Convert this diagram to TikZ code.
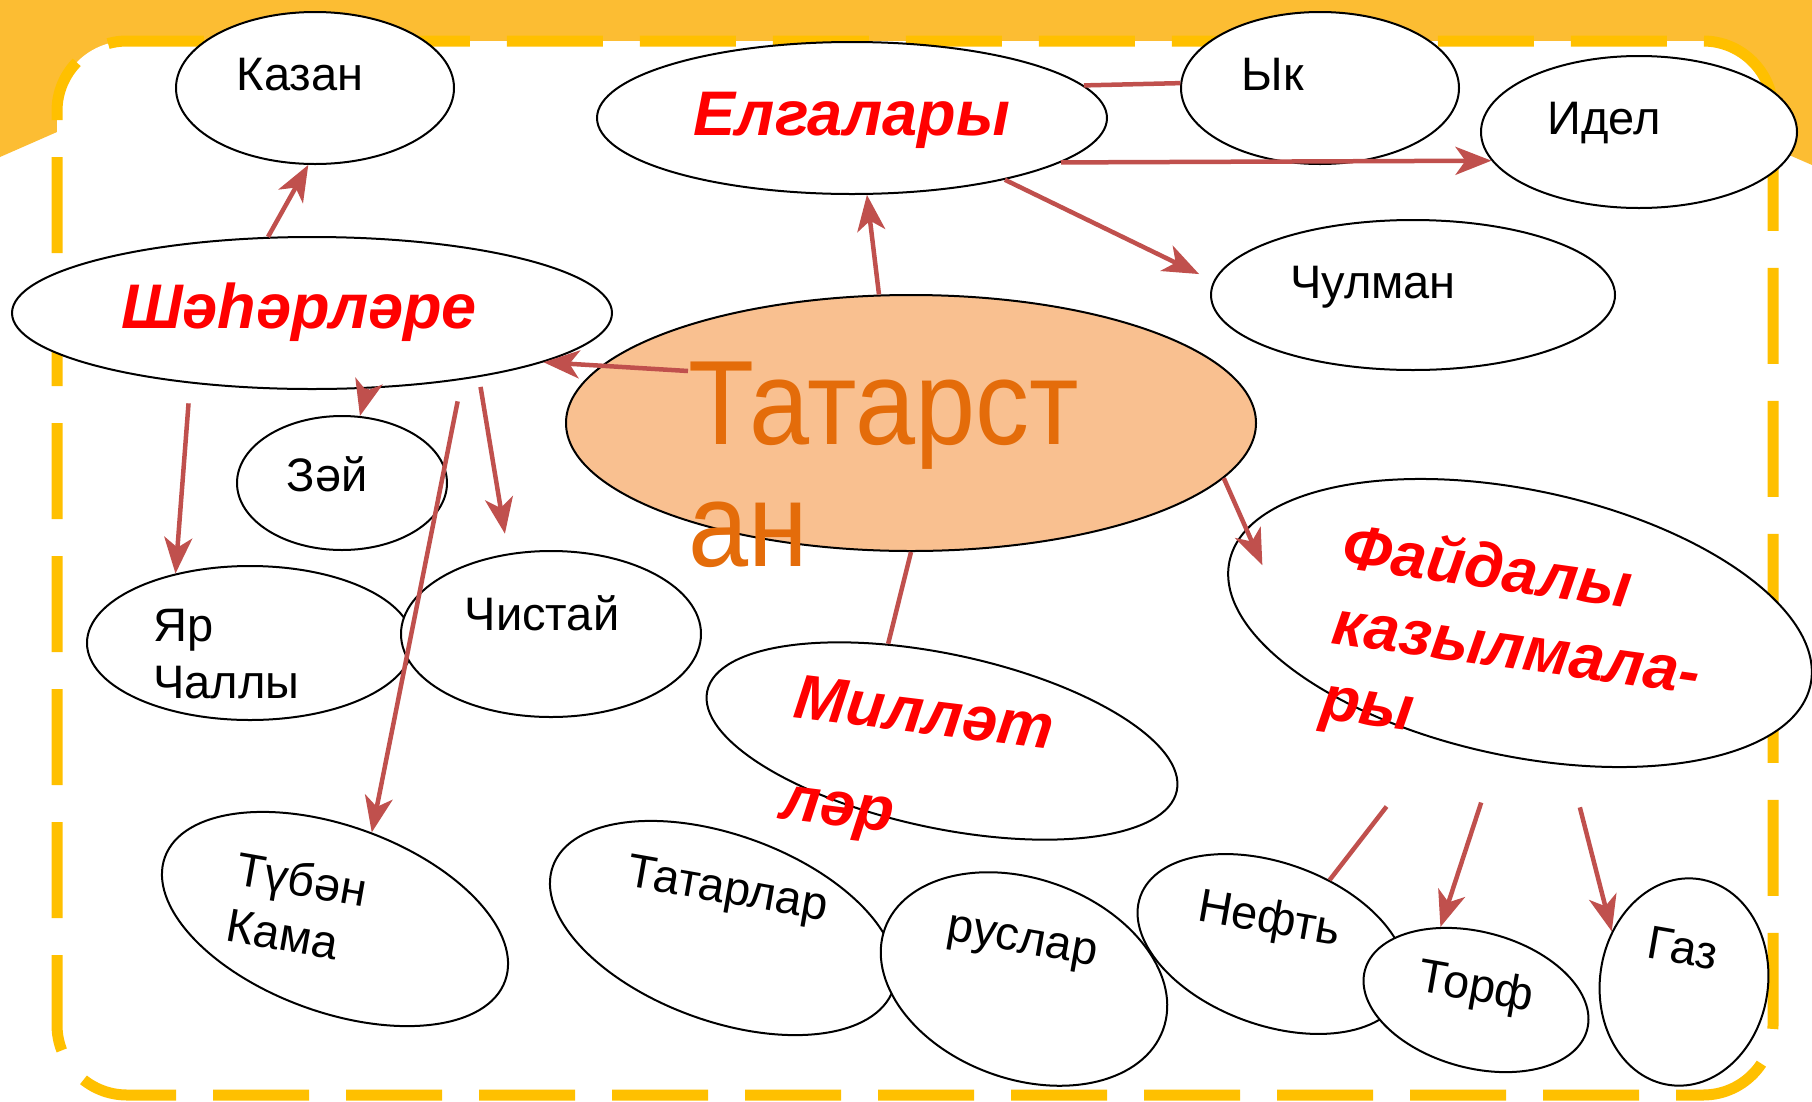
\documentclass[tikz,border=0pt]{standalone}
\usepackage{fontspec}
\setmainfont{Liberation Sans}
\usetikzlibrary{shapes.geometric, arrows.meta}
\definecolor{linkred}{RGB}{192,80,77}
\definecolor{band}{RGB}{252,189,51}
\definecolor{frame}{RGB}{255,192,0}
\definecolor{peach}{RGB}{249,192,144}
\definecolor{tatorange}{RGB}{228,108,10}
\newcommand{\narrow}[1]{\scalebox{0.9}[1]{#1}}

\begin{document}
\begin{tikzpicture}[x=1pt, y=-1pt,
    bub/.style={ellipse, draw, fill=white, line width=2pt, inner sep=0pt},
    lbl/.style={font=\fontsize{47}{57}\selectfont, inner sep=0pt},
    cat/.style={text=red, inner sep=0pt, font=\fontsize{63}{76}\selectfont\bfseries\itshape},
    arr/.style={draw=linkred, line width=4.5pt, -{Stealth[length=36pt, width=28pt, inset=10pt]}},
    lnk/.style={draw=linkred, line width=4.5pt}]

    % slide background and frame
    \useasboundingbox (0,0) rectangle (1812,1101);
    \fill[white] (0,0) rectangle (1812,1101);
    \fill[band] (0,0) -- (1812,0) -- (1812,165) -- (1773,148) -- (57,132) -- (0,157) -- cycle;
    \fill[white, rounded corners=70pt] (57,41) rectangle (1773,1095);
    \draw[frame, line width=11pt, rounded corners=70pt, dash pattern=on 96pt off 37pt, dash phase=87pt] (57,41) rectangle (1773,1095);

    \node[bub, minimum width=278pt, minimum height=152pt] (kaz) at (315,88) {};
    \node[bub, minimum width=510pt, minimum height=152pt] (elg) at (852,118) {};
    \node[bub, minimum width=278pt, minimum height=152pt] (yk) at (1320,88) {};
    \node[bub, minimum width=316pt, minimum height=152pt] (idel) at (1639,132) {};
    \node[bub, minimum width=600pt, minimum height=152pt] (shah) at (312,313) {};
    \node[bub, minimum width=404pt, minimum height=150pt] (chul) at (1413,295) {};
    \node[bub, fill=peach, minimum width=690pt, minimum height=256pt] (tat) at (911,423) {};
    \node[bub, rotate=-12, minimum width=594pt, minimum height=266pt] (fay) at (1520,623) {};
    \node[bub, rotate=-12, minimum width=480pt, minimum height=174pt] (mil) at (942,741) {};
    \node[bub, minimum width=210pt, minimum height=134pt] (zay) at (342,483) {};
    \node[bub, minimum width=326pt, minimum height=154pt] (yar) at (250,643) {};
    \node[bub, minimum width=300pt, minimum height=166pt] (chis) at (551,634) {};
    \node[bub, rotate=-20, minimum width=362pt, minimum height=186pt] (tub) at (335,919) {};
    \node[bub, rotate=-20, minimum width=362pt, minimum height=186pt] (tatl) at (723,928) {};
    \node[bub, rotate=-20, minimum width=280pt, minimum height=162pt] (neft) at (1272,944) {};
    \node[bub, rotate=-20, minimum width=296pt, minimum height=200pt] (rus) at (1024,979) {};
    \node[bub, rotate=-15, minimum width=230pt, minimum height=136pt] (torf) at (1476,1000) {};
    \node[bub, rotate=-8, minimum width=168pt, minimum height=208pt] (gaz) at (1684,982) {};

    \node[anchor=north west, inner sep=0pt, align=left, text=tatorange, font=\fontsize{120}{122}\selectfont] (tat-t) at (688,362) {\narrow{Татарст}\\\narrow{ан}};

    \draw[arr] (shah.120) -- (kaz.265);
    \draw[arr] ([yshift=-9pt]tat-t.north west) -- (shah.348);
    \draw[arr] (tat.104) -- (elg.281);
    \draw[lnk] (elg.8) -- (yk.178);
    \draw[arr] (elg.348) -- (idel.191);
    \draw[arr, shorten >=16pt] (elg.338) -- (chul.176);
    \draw[arr, shorten >=-40pt] (tat.350) -- (fay.173);
    \draw[lnk] (tat.270) -- (mil.131);
    \draw[arr] (shah.306) -- (zay.75);
    \draw[arr, shorten <=20pt] (shah.210) -- (yar.137);
    \draw[arr, shorten <=22pt] (shah.336) -- (tub.87);
    \draw[arr, shorten <=10pt, shorten >=20pt] (shah.339) -- (chis.118);
    \draw[lnk, shorten <=84pt] (fay.247) -- (neft.68);
    \draw[arr, shorten <=50pt] (fay.272) -- (torf.131);
    \draw[arr, shorten <=43pt] (fay.301) -- (gaz.153);

    \node[lbl, anchor=base] (kaz-t) at (300,90) {Казан};
    \node[cat, anchor=base] (elg-t) at (852,135) {Елгалары};
    \node[lbl, anchor=base] (yk-t) at (1273,90) {Ык};
    \node[lbl, anchor=base] (idel-t) at (1604,134) {Идел};
    \node[cat, anchor=base] (shah-t) at (299,328) {Шәһәрләре};
    \node[lbl, anchor=base] (chul-t) at (1373,298) {Чулман};
    \node[lbl, anchor=base] (zay-t) at (327,491) {Зәй};
    \node[lbl, anchor=base] (chis-t) at (542,630) {Чистай};
    \node[lbl, anchor=north west, align=left] (yar-t) at (153,609) {Яр\\Чаллы};
    \node[lbl, align=left, rotate=-10] (tub-t) at (297,907) {Түбән\\Кама};
    \node[lbl, rotate=-10] (tatl-t) at (727,892) {Татарлар};
    \node[lbl, rotate=-10] (rus-t) at (1022,945) {руслар};
    \node[lbl, rotate=-10] (neft-t) at (1269,921) {Нефть};
    \node[lbl, rotate=-10] (torf-t) at (1476,989) {Торф};
    \node[lbl, rotate=-10] (gaz-t) at (1683,948) {Газ};
    \node[cat, align=left, rotate=-8] (fay-t) at (1516,652) {Файдалы\\казылмала-\\ры};
    \node[cat, align=left, rotate=-7, font=\fontsize{63}{102}\selectfont\bfseries\itshape] (mil-t) at (917,769) {Милләт\\ләр};
\end{tikzpicture}
\end{document}
